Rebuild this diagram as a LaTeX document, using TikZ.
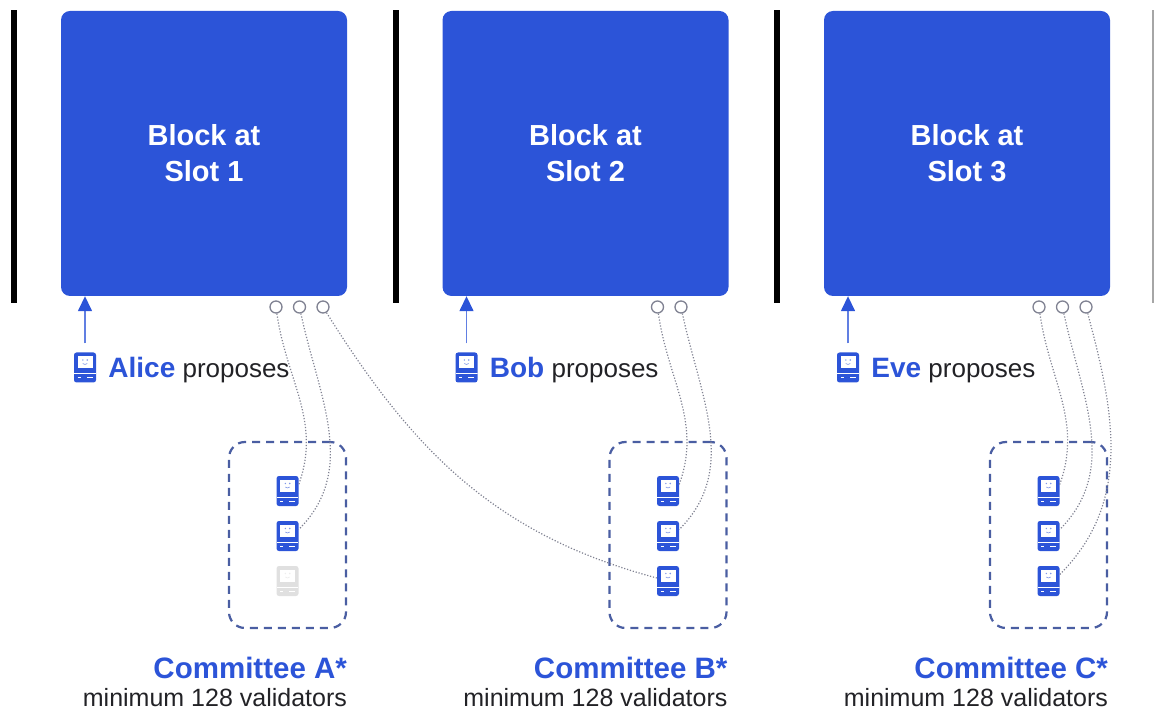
\documentclass[tikz,border=0pt]{standalone}
\usepackage{fontspec}
\setmainfont{Liberation Sans}
\usetikzlibrary{positioning,arrows.meta}
\definecolor{ethblue}{RGB}{44,84,216}
\definecolor{dashblue}{RGB}{74,94,162}
\definecolor{ink}{RGB}{34,34,38}
\definecolor{wire}{RGB}{128,130,146}
\colorlet{idle}{black!12}
\tikzset{
  block/.style = {fill=ethblue, rounded corners=9pt, minimum width=286pt, minimum height=285pt,
    text=white, align=center, font=\bfseries\fontsize{29}{36}\selectfont},
  socket/.style = {circle, draw=wire, line width=1.3pt, fill=white, minimum size=12pt, inner sep=0pt},
  machine/.style = {rectangle, fill=#1, rounded corners=2.5pt, minimum width=22pt, minimum height=30pt, inner sep=0pt,
    path picture={
      \fill[white, sharp corners] ([shift={(3.5pt,-3.5pt)}]path picture bounding box.north west) rectangle ([shift={(-3.5pt,-16pt)}]path picture bounding box.north east);
      \fill[#1!60!white] ([shift={(-2.2pt,-7.5pt)}]path picture bounding box.north) circle (0.8pt) ([shift={(2.2pt,-7.5pt)}]path picture bounding box.north) circle (0.8pt);
      \draw[#1!60!white, line width=0.6pt] ([shift={(-2.2pt,-11pt)}]path picture bounding box.north) to[bend right=50] ([shift={(2.2pt,-11pt)}]path picture bounding box.north);
      \draw[white, line width=0.8pt] ([yshift=-21pt]path picture bounding box.north west) -- ([yshift=-21pt]path picture bounding box.north east);
      \draw[white, line width=0.8pt] ([shift={(3.5pt,-25pt)}]path picture bounding box.north west) -- +(3pt,0pt);
      \draw[white, line width=0.8pt] ([shift={(-3.5pt,-25pt)}]path picture bounding box.north east) -- +(-6pt,0pt);
    }},
  machine/.default = ethblue,
  committee/.style = {draw=dashblue, line width=2.2pt, dash pattern=on 8pt off 6pt, rounded corners=16pt,
    minimum width=117pt, minimum height=186pt},
  vote/.style = {draw=wire, line width=1.2pt, dash pattern=on 1.2pt off 1.8pt},
  propose/.style = {draw=ethblue!75, line width=1.5pt, -{Triangle[width=14pt,length=15pt,color=ethblue]}},
  bar/.style = {line width=6pt},
  proposer/.style = {text=ink, inner sep=0pt, font=\fontsize{26}{30}\selectfont},
  cname/.style = {text=ethblue, inner sep=0pt, font=\bfseries\fontsize{29.5}{34}\selectfont},
  cnote/.style = {text=ink, inner sep=0pt, font=\fontsize{25}{30}\selectfont}
}

\begin{document}
\begin{tikzpicture}[x=1pt,y=1pt]
  \useasboundingbox (0,0) rectangle (1156,713);
  \foreach \i/\who/\com/\n in {1/Alice/A/3, 2/Bob/B/2, 3/Eve/C/3} {
    \pgfmathsetmacro{\xs}{381.5*(\i-1)}
    \pgfmathsetmacro{\cx}{287.5+380.5*(\i-1)}
    % separator
    \draw[bar] (14+\xs,410) -- (14+\xs,703);
    % block
    \node[block] (block\i) at (204+\xs,559.5) {Block at\\Slot \i};
    % sockets
    \foreach \j in {1,...,\n}
      \node[socket] (s\i\j) at ({276+23.5*(\j-1)+\xs},406) {};
    % proposer
    \node[machine] (prop\i) at (85+\xs,345.5) {};
    \node[proposer, right=12pt of prop\i, anchor=base west, yshift=-10pt] (who\i)
      {\textcolor{ethblue}{\bfseries\fontsize{28}{30}\selectfont\who} proposes};
    \draw[propose] ([yshift=9pt]prop\i.north) -- (prop\i.north |- block\i.south);
    % committee
    \node[committee] (com\i) at (\cx,178) {};
    \foreach \k/\y in {1/222, 2/177, 3/132} {
      \def\hue{ethblue}
      \ifnum\i\k=13 \def\hue{idle}\fi
      \node[machine=\hue] (v\i\k) at (\cx,\y) {};
    }
    \node[cname, anchor=base east] (cname\i) at ([yshift=-49pt]com\i.south east) {Committee \com*};
    \node[cnote, anchor=base east] (cnote\i) at ([yshift=-28pt]cname\i.base east) {minimum 128 validators};
  }
  \draw[line width=1.5pt, black!35] (1153,410) -- (1153,703);
  % attestations
  \draw[vote] (s11) to[out=-82,in=70] (v11.30);
  \draw[vote] (s12) to[out=-78,in=45] (v12.30);
  \draw[vote] (s13) to[out=-58,in=165] (v23.165);
  \draw[vote] (s21) to[out=-82,in=70] (v21.30);
  \draw[vote] (s22) to[out=-78,in=45] (v22.30);
  \draw[vote] (s31) to[out=-82,in=70] (v31.30);
  \draw[vote] (s32) to[out=-78,in=45] (v32.30);
  \draw[vote] (s33) to[out=-75,in=45] (v33.30);
\end{tikzpicture}
\end{document}
